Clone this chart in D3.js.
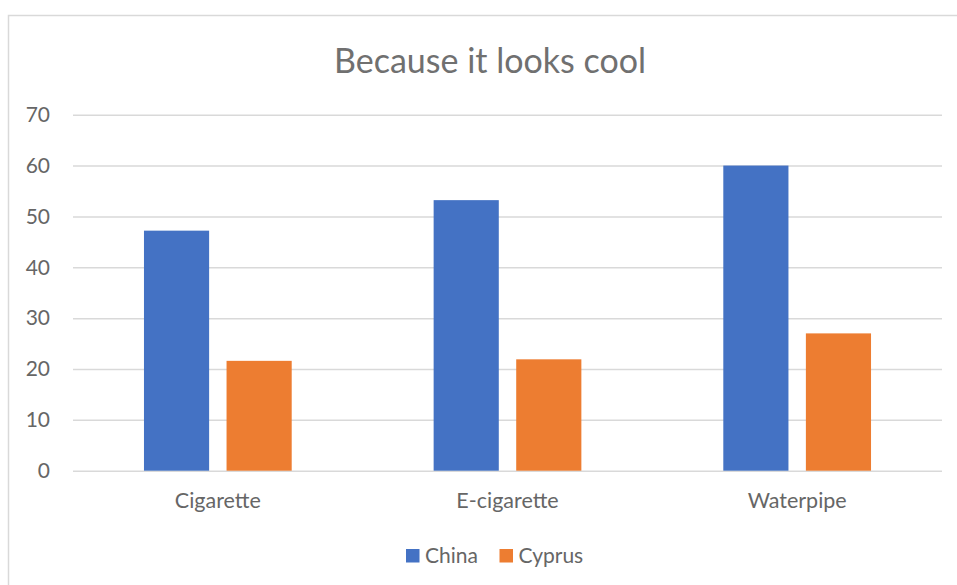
<!DOCTYPE html>
<html>
<head>
<meta charset="utf-8">
<script src="https://cdn.jsdelivr.net/npm/d3@7"></script>
<style>
  body { margin: 0; background: #fff; }
  text { font-family: Lato, "Open Sans", sans-serif; fill: #666; }
</style>
</head>
<body>
<svg id="chart" width="957" height="585"></svg>
<script>
// chart data
var categories = ["Cigarette", "E-cigarette", "Waterpipe"];
var seriesNames = ["China", "Cyprus"];
var china = [47.2, 53.2, 60.0];
var cyprus = [21.6, 21.9, 27.0];
var yTicks = [0, 10, 20, 30, 40, 50, 60, 70];
var colors = ["#4472C4", "#ED7D31"];

var svg = d3.select("#chart");

// outer frame (only top and left edges show in the crop)
svg.append("path")
    .attr("d", "M8.5,600V15.5H960")
    .style("fill", "none")
    .style("stroke", "#d9d9d9")
    .style("stroke-width", 1.5);

var plotLeft = 73, plotRight = 942, plotTop = 114.7, plotBottom = 470.7;

var y = d3.scaleLinear().domain([0, 70]).range([plotBottom, plotTop]);
var x0 = d3.scaleBand().domain(categories).range([plotLeft, plotRight])
    .paddingInner(0.49).paddingOuter(0.245);
var x1 = d3.scaleBand().domain(seriesNames).range([0, x0.bandwidth()])
    .paddingInner(0.211);

// gridlines + y labels
var yAxis = d3.axisLeft(y).tickValues(yTicks).tickSize(-(plotRight - plotLeft)).tickPadding(23);
var gy = svg.append("g").attr("transform", "translate(" + plotLeft + ",0)").call(yAxis);
gy.select(".domain").remove();
gy.selectAll(".tick line").style("stroke", "#d9d9d9").style("stroke-width", 1.5);
gy.selectAll(".tick text").style("font-size", "21px").style("fill", "#666")
    .attr("font-family", null);

var rows = categories.map(function(c, i) { return {cat: c, vals: [china[i], cyprus[i]]}; });

var groups = svg.selectAll("g.grp").data(rows).enter().append("g")
    .attr("class", "grp")
    .attr("transform", function(d) { return "translate(" + x0(d.cat) + ",0)"; });

groups.selectAll("rect").data(function(d) {
        return d.vals.map(function(v, j) { return {name: seriesNames[j], v: v, j: j}; });
    }).enter().append("rect")
    .attr("x", function(d) { return x1(d.name); })
    .attr("width", x1.bandwidth())
    .attr("y", function(d) { return y(d.v); })
    .attr("height", function(d) { return plotBottom - y(d.v); })
    .style("fill", function(d) { return colors[d.j]; });

// category labels
var xAxis = d3.axisBottom(x0).tickSize(0).tickPadding(22);
var gx = svg.append("g").attr("transform", "translate(0," + plotBottom + ")").call(xAxis);
gx.select(".domain").remove();
gx.selectAll(".tick text").style("font-size", "21.5px").style("fill", "#666")
    .attr("font-family", null);

// title
svg.append("text")
    .attr("x", 490).attr("y", 72.5)
    .attr("text-anchor", "middle")
    .style("font-size", "34px")
    .style("fill", "#707070")
    .text("Because it looks cool");

// legend
var legendX = [406, 499.5];
var lg = svg.selectAll("g.leg").data(seriesNames).enter().append("g")
    .attr("class", "leg")
    .attr("transform", function(d, i) { return "translate(" + legendX[i] + ",549)"; });
lg.append("rect").attr("width", 13.5).attr("height", 13.5)
    .style("fill", function(d, i) { return colors[i]; });
lg.append("text").attr("x", 19).attr("y", 13.5)
    .style("font-size", "21px")
    .text(function(d) { return d; });
</script>
</body>
</html>
